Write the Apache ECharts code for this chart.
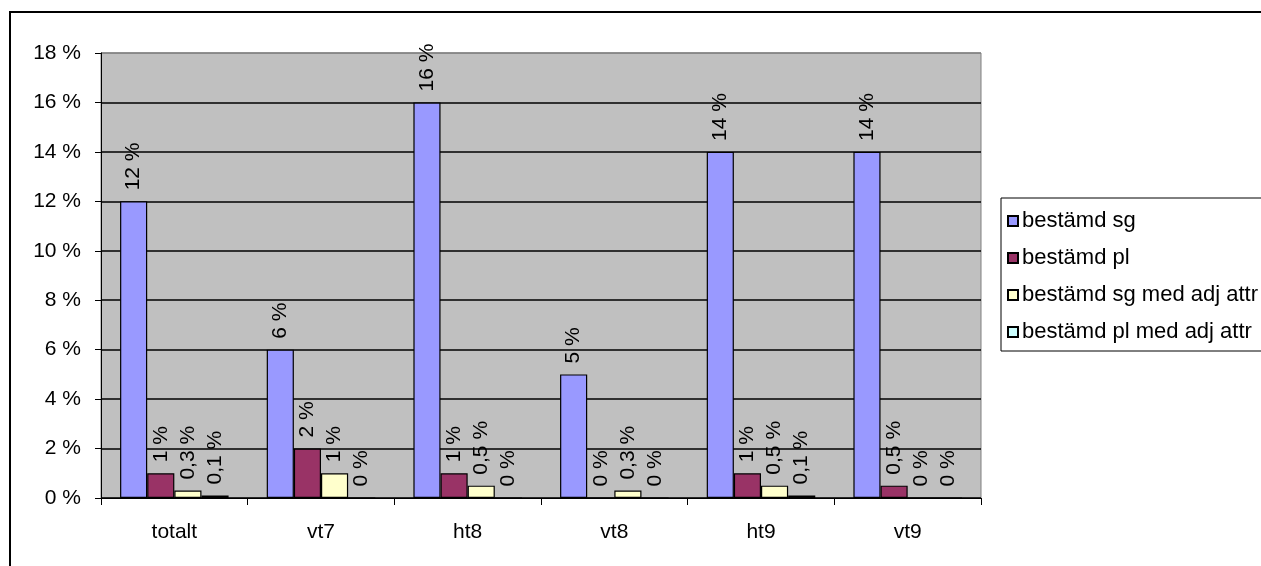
<!DOCTYPE html>
<html>
<head>
<meta charset="utf-8">
<script src="https://cdn.jsdelivr.net/npm/echarts@6/dist/echarts.min.js"></script>
<style>
  html, body { margin: 0; padding: 0; background: #fff; overflow: hidden; }
  #frame { position: absolute; left: 9px; top: 11px; width: 1300px; height: 600px;
           border: 2px solid #000; box-sizing: border-box; }
  #chart { position: absolute; left: 0; top: 0; width: 1261px; height: 566px; }
</style>
</head>
<body>
<div id="frame"></div>
<div id="chart"></div>
<script>
// Terms (semesters) along the x axis
const categories = ['totalt', 'vt7', 'ht8', 'vt8', 'ht9', 'vt9'];

// Share of forms, in percent
const bestamdSg = [12, 6, 16, 5, 14, 14];
const bestamdPl = [1, 2, 1, 0, 1, 0.5];
const bestamdSgAdj = [0.3, 1, 0.5, 0.3, 0.5, 0];
const bestamdPlAdj = [0.1, 0, 0, 0, 0.1, 0];

const seriesNames = ['bestämd sg', 'bestämd pl', 'bestämd sg med adj attr', 'bestämd pl med adj attr'];
const seriesColors = ['#9999FF', '#993366', '#FFFFCC', '#CCFFFF'];
const seriesData = [bestamdSg, bestamdPl, bestamdSgAdj, bestamdPlAdj];

const FONT = 'Liberation Sans, Arial, sans-serif';
const pct = v => String(v).replace('.', ',') + ' %';

const chart = echarts.init(document.getElementById('chart'), null, { renderer: 'canvas' });

chart.setOption({
  animation: false,
  textStyle: { fontFamily: FONT, color: '#000' },
  grid: {
    left: 101, top: 53, right: 280, bottom: 68,
    show: true, backgroundColor: '#C0C0C0', borderColor: '#808080', borderWidth: 1
  },
  legend: {
    orient: 'vertical',
    left: 1001, top: 198,
    padding: [12, 40, 8, 6],
    itemWidth: 10, itemHeight: 10, itemGap: 15,
    icon: 'rect',
    borderColor: '#000', borderWidth: 1,
    textStyle: { fontFamily: FONT, fontSize: 22, color: '#000', lineHeight: 20, padding: [0, 0, 0, -1] },
    data: seriesNames
  },
  xAxis: {
    type: 'category',
    data: categories,
    axisLine: { lineStyle: { color: '#000', width: 1 } },
    axisTick: { show: true, length: 7, lineStyle: { color: '#000' } },
    axisLabel: { fontFamily: FONT, fontSize: 21, color: '#000', margin: 24 }
  },
  yAxis: {
    type: 'value',
    min: 0, max: 18, interval: 2,
    axisLine: { show: true, lineStyle: { color: '#000', width: 1 } },
    axisTick: { show: true, length: 6, lineStyle: { color: '#000' } },
    axisLabel: { fontFamily: FONT, fontSize: 21, color: '#000', margin: 20, formatter: v => v + ' %' },
    splitLine: { show: true, lineStyle: { color: ['#000','#000','#000','#000','#000','#000','#000','#000','#000','#808080'], width: 1.5 } }
  },
  series: seriesData.map((d, i) => ({
    name: seriesNames[i],
    type: 'bar',
    data: d,
    barGap: '0%',
    barCategoryGap: '26%',
    itemStyle: { color: seriesColors[i], borderColor: '#000', borderWidth: 1.2 },
    label: {
      show: true,
      position: 'top',
      rotate: 90,
      align: 'left',
      verticalAlign: 'middle',
      distance: 11,
      fontFamily: FONT,
      fontSize: 21,
      color: '#000',
      formatter: p => pct(p.value)
    }
  }))
});
</script>
</body>
</html>
